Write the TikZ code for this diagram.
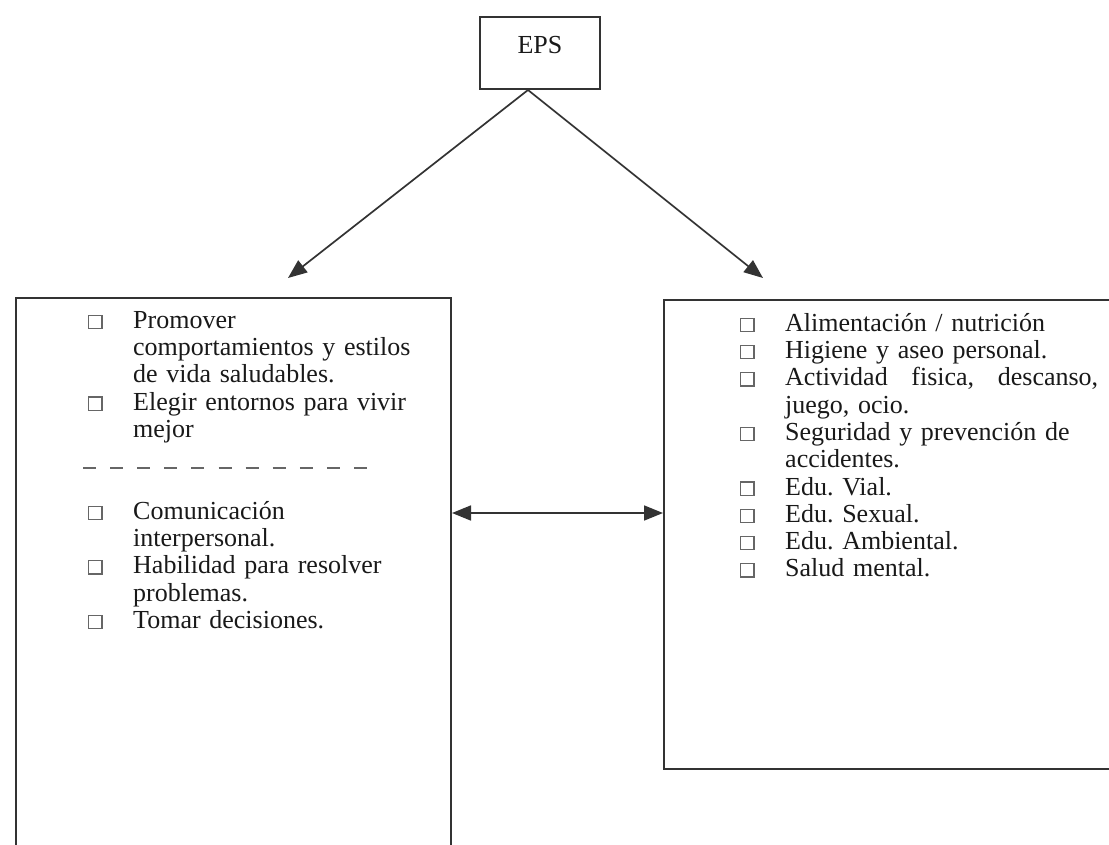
\documentclass[tikz,border=0pt]{standalone}
\usepackage{fontspec}
\setmainfont{Liberation Serif}
\usepackage{tikz}
\usetikzlibrary{arrows.meta, positioning}

\newcommand{\casilla}{\makebox[45pt][l]{\raisebox{0.5pt}{\color{black!60}\setlength{\fboxsep}{0pt}\setlength{\fboxrule}{1.2pt}\fbox{\rule{0pt}{12pt}\hspace{12pt}}}}}
\newcommand{\sangria}{\hspace*{45pt}}

\begin{document}
\begin{tikzpicture}[x=1pt, y=-1pt,
  font=\fontsize{26}{27.3}\selectfont\frenchspacing, text=black!90,
  caja/.style={draw=black!80, line width=2pt, inner sep=0pt, anchor=north west},
  lista/.style={align=left, text width=380pt, inner sep=0pt, anchor=north west},
  flecha/.style={draw=black!80, line width=1.7pt, -{Triangle[length=19pt, width=15pt]}}]
  \useasboundingbox (0,0) rectangle (1109,844);
  \clip (0,0) rectangle (1109,844);

  % cabecera
  \node[draw=black!80, line width=2pt, minimum width=120pt, text height=36pt,
        text depth=36pt, inner sep=0pt] (eps) at (540,53) {EPS};
  \coordinate (pizq) at (288,278);
  \coordinate (pder) at (763,278);
  \draw[flecha] ([xshift=-12pt]eps.south) -- (pizq);
  \draw[flecha] ([xshift=-12pt]eps.south) -- (pder);

  % cajas
  \node[caja, minimum width=435pt, minimum height=600pt] (izq) at (15,297) {};
  \node[caja, minimum width=480pt, minimum height=469pt] (der) at (663,299) {};
  \draw[flecha, {Triangle[length=19pt, width=15pt]}-{Triangle[length=19pt, width=15pt]}]
       ([yshift=-216pt]izq.north east) -- ([yshift=-214pt]der.north west);

  % caja izquierda
  \node[lista] (promover) at (88,311)
       {\casilla Promover\\
        \sangria comportamientos y estilos\\
        \sangria de vida saludables.\\
        \casilla Elegir entornos para vivir\\
        \sangria mejor};
  \draw[black!60, line width=1.2pt, dash pattern=on 13pt off 14.1pt] (83,468) -- (367,468);
  \node[lista] (comunicacion) at (88,501)
       {\casilla Comunicación\\
        \sangria interpersonal.\\
        \casilla Habilidad para resolver\\
        \sangria problemas.\\
        \casilla Tomar decisiones.};

  % caja derecha
  \node[lista] (temas) at (740,313)
       {\casilla Alimentación / nutrición\\
        \casilla Higiene y aseo personal.\\
        \casilla\hbox to 313pt{Actividad\hfill fisica,\hfill descanso,}\\
        \sangria juego, ocio.\\
        \casilla Seguridad y prevención de\\
        \sangria accidentes.\\
        \casilla Edu. Vial.\\
        \casilla Edu. Sexual.\\
        \casilla Edu. Ambiental.\\
        \casilla Salud mental.};
\end{tikzpicture}
\end{document}
